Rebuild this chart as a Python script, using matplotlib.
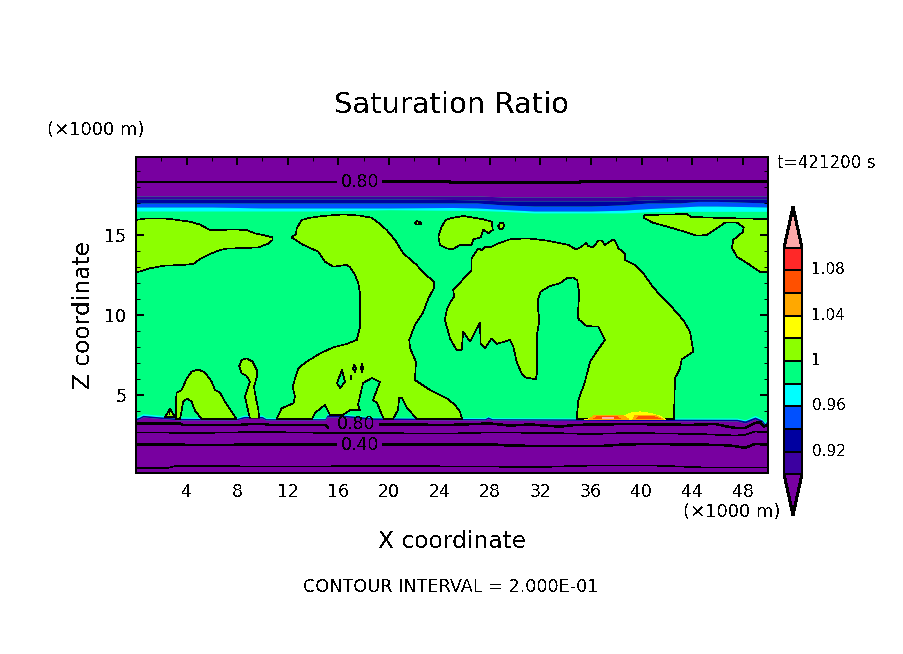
import matplotlib
matplotlib.use("Agg")
import matplotlib.pyplot as plt
from matplotlib.cm import ScalarMappable
from matplotlib.colors import BoundaryNorm, ListedColormap
from matplotlib.transforms import ScaledTranslation

plt.rcParams["font.family"] = ["DejaVu Sans"]
plt.rcParams["lines.antialiased"] = False
plt.rcParams["patch.antialiased"] = False
plt.rcParams["text.antialiased"] = False

# colour levels of the shading
levels = [0.90, 0.92, 0.94, 0.96, 0.98, 1.00, 1.02, 1.04, 1.06, 1.08, 1.10]
level_colors = ["#3C00A0", "#0000A0", "#0050FF", "#00FFFF", "#00FF80",
                "#8CFF00", "#FFFF00", "#FFA800", "#FF5000", "#FF2828"]
under_color = "#7800A0"
over_color = "#FFA8A8"
cbar_ticks = [0.92, 0.96, 1.00, 1.04, 1.08]
cbar_labels = ["0.92", "0.96", "1", "1.04", "1.08"]

# areas above saturation ratio 1 (x km, z km)
blob_a = [(0, 15.94), (0.84, 16.04), (2.16, 16.04), (3.09, 15.96), (4.27, 15.83), (5.06, 15.65), (5.85, 15.31),
          (6.51, 15.29), (7.44, 15.35), (8.23, 15.33), (8.75, 15.31), (9.41, 15.1), (10.07, 15.0),
          (10.81, 14.85), (10.81, 14.69), (10.47, 14.46), (9.68, 14.23), (8.75, 14.19), (7.17, 14.15),
          (6.64, 14.06), (5.85, 13.81), (5.06, 13.5), (4.54, 13.19), (3.74, 13.13), (2.16, 13.08),
          (1.11, 12.92), (0, 12.65)]
blob_b = [(12.31, 14.85), (12.66, 15.06), (12.71, 15.42), (13.11, 15.94), (13.76, 16.08), (14.82, 16.19),
          (16.4, 16.29), (17.72, 16.21), (18.64, 16.08), (19.3, 15.69), (19.83, 15.31), (20.49, 14.69),
          (21.15, 13.85), (22.2, 13.13), (22.73, 12.65), (23.57, 12.08), (23.57, 11.67), (23.13, 11.04),
          (22.68, 10.1), (22.07, 9.38), (21.62, 8.44), (21.68, 7.92), (22.15, 7.08), (22.07, 5.94),
          (23.26, 5.31), (24.58, 4.79), (25.24, 4.38), (25.63, 3.96), (25.79, 3.5), (22.23, 3.5),
          (21.44, 4.19), (21.04, 4.81), (20.81, 4.81), (20.73, 4.06), (20.33, 3.5), (19.62, 3.5),
          (19.46, 3.75), (19.07, 4.5), (18.75, 4.69), (19.3, 5.81), (18.67, 6.06), (17.96, 5.75),
          (17.56, 4.38), (17.72, 4.06), (16.93, 4.06), (16.38, 3.75), (15.34, 3.75), (14.95, 4.38),
          (14.16, 3.88), (13.92, 3.5), (11.13, 3.5), (11.52, 4.17), (12.45, 4.48), (12.58, 4.9),
          (12.39, 5.52), (12.84, 6.67), (13.5, 7.08), (14.56, 7.6), (15.61, 7.98), (16.67, 8.19),
          (17.46, 8.44), (17.7, 9.19), (17.72, 9.69), (17.72, 11.35), (17.59, 11.98), (17.33, 12.5),
          (16.93, 12.98), (16.67, 13.13), (15.61, 13.02), (14.95, 13.33), (14.42, 13.96), (13.24, 14.38)]
blob_c = [(3.14, 3.5), (3.14, 4.58), (3.22, 5.15), (3.61, 5.31), (4.01, 6.04), (4.4, 6.46), (4.93, 6.6),
          (5.46, 6.4), (5.99, 5.83), (6.25, 5.31), (6.64, 5.15), (7.04, 4.58), (7.96, 3.5), (5.19, 3.5),
          (4.67, 4.02), (4.4, 4.58), (4.06, 4.79), (3.74, 4.58), (3.48, 3.5)]
blob_tiny = [(2.29, 3.63), (2.69, 4.13), (3.09, 3.63)]
blob_d = [(9.02, 3.5), (9.76, 3.5), (9.68, 4.06), (9.49, 4.79), (9.33, 5.52), (9.55, 6.1), (9.55, 6.56),
          (9.23, 7.08), (8.75, 7.29), (8.36, 7.19), (8.17, 6.81), (8.36, 6.35), (8.75, 6.19), (9.02, 5.83),
          (8.62, 4.9), (8.89, 3.96)]
blob_e = [(42.56, 3.5), (42.64, 6.04), (43.04, 6.67), (43.17, 7.23), (44.09, 7.71), (43.83, 8.96), (43.3, 9.69),
          (43.17, 9.79), (42.24, 10.63), (41.45, 11.25), (40.79, 11.87), (40.13, 12.6), (39.48, 13.13),
          (38.68, 13.44), (38.68, 13.85), (38.16, 14.17), (37.97, 14.52), (37.76, 14.73), (37.1, 14.38),
          (36.84, 14.65), (36.57, 14.65), (36.18, 14.23), (35.78, 14.31), (35.6, 14.52), (35.26, 14.27),
          (34.81, 14.1), (34.2, 14.38), (32.49, 14.65), (31.7, 14.73), (30.9, 14.79), (29.59, 14.73),
          (28.8, 14.52), (28.0, 14.23), (27.61, 14.27), (27.35, 14.06), (27.08, 14.17), (26.82, 13.85),
          (26.55, 13.54), (26.55, 12.81), (25.1, 11.56), (25.16, 11.15), (24.84, 10.77), (24.58, 10.31),
          (24.44, 9.69), (24.84, 8.54), (25.37, 7.81), (25.76, 7.81), (25.89, 8.96), (26.42, 8.33),
          (27.21, 9.52), (27.27, 8.23), (27.61, 7.92), (28.14, 8.54), (28.53, 8.19), (29.59, 8.44),
          (29.85, 8.02), (30.11, 7.08), (30.51, 6.35), (30.77, 6.1), (31.64, 5.98), (31.75, 6.56),
          (31.7, 8.65), (31.91, 9.69), (31.78, 10.52), (31.83, 11.04), (32.01, 11.46), (32.75, 11.81),
          (33.54, 11.98), (34.07, 12.29), (34.6, 12.35), (34.91, 12.15), (35.07, 11.35), (34.94, 9.9),
          (35.07, 9.69), (35.65, 9.31), (36.57, 9.27), (37.1, 8.44), (36.44, 7.71), (35.92, 7.08),
          (35.52, 5.83), (35.0, 4.69), (34.86, 3.5)]
blob_f = [(23.92, 14.9), (24.18, 15.52), (24.52, 15.94), (24.84, 16.04), (25.89, 16.19), (27.48, 15.98),
          (28.14, 15.83), (28.22, 15.31), (27.87, 15.1), (27.48, 15.35), (27.27, 14.85), (26.69, 14.73),
          (26.55, 14.38), (25.63, 14.38), (25.05, 14.1), (24.58, 14.17), (24.05, 14.38)]
blob_g = [(40.19, 16.2), (40.3, 16.25), (43.59, 16.31), (43.91, 16.13), (46.44, 16.06), (50, 16.0), (50, 12.69),
          (49.37, 12.69), (48.34, 13.25), (47.55, 13.63), (47.15, 14.19), (47.25, 14.69), (48.02, 15.19),
          (48.08, 15.48), (47.55, 15.77), (46.6, 15.77), (45.17, 15.0), (44.38, 14.96), (42.8, 15.35),
          (40.9, 15.77), (40.19, 16.06)]
dot_a = [(28.66, 15.56), (28.8, 15.75), (29.04, 15.75), (29.12, 15.56), (29.0, 15.38), (28.77, 15.38)]
dot_b = [(22.05, 15.75), (22.2, 15.87), (22.5, 15.81), (22.6, 15.69), (22.2, 15.65)]

# small holes below 1 inside blob b
hole_a = [(16.3, 6.56), (15.9, 5.75), (16.14, 5.44), (16.53, 5.81)]
hole_b = [(17.25, 6.88), (17.4, 6.69), (17.33, 6.44), (17.17, 6.63)]
hole_c = [(17.88, 6.94), (17.96, 6.69), (17.88, 6.44), (17.8, 6.69)]
hole_d = [(16.9, 6.25), (17.02, 6.25), (17.02, 6.0), (16.9, 6.0)]

# warm patch near cloud base
warm_yellow = [(35.5, 3.44), (36.7, 3.66), (38.7, 3.72), (39.2, 3.88), (39.9, 3.94), (40.7, 3.85),
               (41.5, 3.66), (41.9, 3.44)]
warm_orange_a = [(35.8, 3.47), (36.2, 3.69), (38.6, 3.69), (39.0, 3.47)]
warm_orange_b = [(39.3, 3.47), (39.5, 3.75), (41.0, 3.75), (41.7, 3.47)]
warm_red_a = [(36.2, 3.5), (36.5, 3.64), (38.1, 3.64), (38.3, 3.5)]
warm_red_b = [(39.6, 3.5), (39.8, 3.64), (41.0, 3.64), (41.5, 3.5)]
warm_pink = [(36.9, 3.5), (36.9, 3.6), (37.8, 3.6), (37.8, 3.5)]

# shading boundaries under the tropopause
top_x = [0, 6.01, 9.97, 14.0, 20.02, 25.0, 26.98, 29.03, 31.49, 32.99, 36.0, 38.53, 40.51, 43.04, 44.46, 45.96, 50]
top_98 = [16.5, 16.5, 16.5, 16.5, 16.58, 16.54, 16.54, 16.48, 16.38, 16.38, 16.38, 16.38, 16.45, 16.48, 16.48, 16.48, 16.48]
top_96 = [16.75, 16.75, 16.69, 16.69, 16.69, 16.72, 16.69, 16.6, 16.5, 16.5, 16.5, 16.55, 16.65, 16.75, 16.81, 16.81, 16.75]
top_94 = [17.0, 17.0, 17.0, 17.0, 17.0, 17.0, 17.0, 16.88, 16.81, 16.81, 16.81, 16.88, 17.0, 17.0, 17.1, 17.1, 17.0]
top_92 = [17.25, 17.25, 17.25, 17.25, 17.25, 17.22, 17.19, 17.13, 17.13, 17.13, 17.13, 17.13, 17.19, 17.25, 17.25, 17.25, 17.25]
top_90 = [17.44, 17.44, 17.44, 17.44, 17.44, 17.44, 17.44, 17.38, 17.38, 17.38, 17.38, 17.38, 17.44, 17.44, 17.44, 17.44, 17.44]

# shading boundaries at cloud base
base_x = [0, 0.24, 0.55, 1.5, 3.48, 7.91, 8.54, 8.86, 9.97, 10.28, 11.08, 14.95, 15.11, 16.53, 18.75,
          27.61, 27.85, 28.16, 36.71, 47.55, 48.18, 48.97, 49.53, 49.76, 50]
base_90 = [3.44, 3.5, 3.63, 3.56, 3.44, 3.44, 3.56, 3.56, 3.56, 3.44, 3.44, 3.44, 3.63, 3.63, 3.47,
           3.44, 3.53, 3.44, 3.41, 3.38, 3.25, 3.5, 3.31, 3.06, 3.38]
base_94 = [3.54, 3.6, 3.73, 3.66, 3.54, 3.52, 3.66, 3.66, 3.66, 3.52, 3.52, 3.52, 3.75, 3.73, 3.57,
           3.52, 3.63, 3.52, 3.5, 3.48, 3.38, 3.62, 3.43, 3.2, 3.5]
base_98 = [3.62, 3.7, 3.83, 3.76, 3.62, 3.58, 3.75, 3.75, 3.75, 3.58, 3.58, 3.58, 3.85, 3.8, 3.62,
           3.58, 3.7, 3.58, 3.56, 3.56, 3.45, 3.72, 3.5, 3.3, 3.6]

# contour lines (labels sit in the gaps)
top80_left_x = [0, 8.0, 15.82]
top80_left_z = [18.33, 18.33, 18.33]
top80_right_x = [19.54, 24.84, 24.85, 35.1, 35.11, 50]
top80_right_z = [18.33, 18.33, 18.27, 18.27, 18.33, 18.33]
low80_left_x = [0, 3.48, 3.72, 8.22, 9.02, 10.05, 10.6, 14.95, 15.18]
low80_left_z = [3.22, 3.22, 3.13, 3.13, 3.19, 3.19, 3.13, 3.13, 3.0]
low80_right_x = [19.3, 24.84, 28.0, 29.59, 31.17, 33.54, 34.73, 39.08, 43.83, 45.81, 46.6, 47.39, 48.18, 48.97, 49.37, 49.68, 50]
low80_right_z = [3.16, 3.13, 3.22, 3.09, 3.16, 3.02, 3.13, 3.19, 3.13, 3.19, 3.06, 2.94, 2.94, 3.25, 3.31, 3.03, 3.13]
low60_x = [0, 5.06, 9.81, 15.34, 24.84, 28.0, 32.75, 35.92, 39.08, 44.62, 47.39, 48.18, 48.97, 50]
low60_z = [2.66, 2.63, 2.69, 2.63, 2.59, 2.66, 2.63, 2.56, 2.63, 2.56, 2.47, 2.5, 2.72, 2.66]
low40_left_x = [0, 5.06, 10.6, 15.82]
low40_left_z = [1.92, 1.88, 1.9, 1.91]
low40_right_x = [19.54, 24.84, 28.0, 29.59, 32.36, 36.71, 38.69, 40.66, 46.2, 47.39, 48.18, 48.97, 50]
low40_right_z = [1.92, 1.91, 1.92, 1.84, 1.81, 1.81, 1.91, 1.94, 1.88, 1.81, 1.69, 1.94, 1.9]
low20_x = [0, 2.5, 3.1, 12.0, 20.0, 27.0, 32.0, 36.0, 41.0, 45.0, 50]
low20_z = [0.44, 0.44, 0.56, 0.53, 0.56, 0.53, 0.5, 0.59, 0.59, 0.47, 0.47]

x_major = list(range(4, 50, 4))
x_minor = list(range(2, 50, 4))
z_major = [5, 10, 15]
z_minor = [z for z in range(1, 20) if z % 5 != 0]

W, H = 904, 654
fig = plt.figure(figsize=(W / 100, H / 100), dpi=100, facecolor="white")
ax = fig.add_axes([136 / W, 1 - 473 / H, 632 / W, 316 / H])
ax.set_facecolor(level_colors[4])
ax.set_xlim(0, 50)
ax.set_ylim(0.125, 19.875)


def shape(points, color=level_colors[5], edge="black", order=1.3):
    xs, zs = zip(*points)
    ax.fill(xs, zs, facecolor=color, edgecolor=edge, linewidth=0.45, zorder=order)


for blob in [blob_a, blob_b, blob_c, blob_tiny, blob_d, blob_e, blob_f, blob_g, dot_a, dot_b]:
    shape(blob)
for hole in [hole_a, hole_b, hole_c, hole_d]:
    shape(hole, level_colors[4], order=1.4)

shape(warm_yellow, level_colors[6], "none", 1.5)
shape(warm_orange_a, level_colors[7], "none", 1.6)
shape(warm_orange_b, level_colors[7], "none", 1.6)
shape(warm_red_a, level_colors[8], "none", 1.7)
shape(warm_red_b, level_colors[8], "none", 1.7)
shape(warm_pink, over_color, "none", 1.8)

# upper stack
ax.fill_between(top_x, top_98, top_96, color=level_colors[3], lw=0, zorder=1.2)
ax.fill_between(top_x, top_96, top_94, color=level_colors[2], lw=0, zorder=1.2)
ax.fill_between(top_x, top_94, top_92, color=level_colors[1], lw=0, zorder=1.2)
ax.fill_between(top_x, top_92, top_90, color=level_colors[0], lw=0, zorder=1.2)
ax.fill_between(top_x, top_90, 19.875, color=under_color, lw=0, zorder=1.2)

# lower stack
ax.fill_between(base_x, base_94, base_98, color=level_colors[3], lw=0, zorder=1.2)
ax.fill_between(base_x, base_90, base_94, color=level_colors[1], lw=0, zorder=1.2)
ax.fill_between(base_x, 0.125, base_90, color=under_color, lw=0, zorder=1.9)

thick = 1.1
thin = 0.45
ax.plot(top80_left_x, top80_left_z, "k", lw=thick)
ax.plot(top80_right_x, top80_right_z, "k", lw=thick)
ax.plot(low80_left_x, low80_left_z, "k", lw=thick)
ax.plot(low80_right_x, low80_right_z, "k", lw=thick)
ax.plot(low60_x, low60_z, "k", lw=thin)
ax.plot(low40_left_x, low40_left_z, "k", lw=thick)
ax.plot(low40_right_x, low40_right_z, "k", lw=thick)
ax.plot(low20_x, low20_z, "k", lw=thin)

ax.text(17.7, 18.33, "0.80", fontsize=12.5, ha="center", va="center", color="black")
ax.text(17.4, 3.2, "0.80", fontsize=12.5, ha="center", va="center", color="black")
ax.text(17.7, 1.9, "0.40", fontsize=12.5, ha="center", va="center", color="black")
ax.text(2.69, 3.82, "1", fontsize=4.5, ha="center", va="center", color="black")

ax.set_xticks(x_major)
ax.set_xticks(x_minor, minor=True)
ax.set_yticks(z_major)
ax.set_yticks(z_minor, minor=True)
ax.tick_params(which="major", direction="in", top=True, right=True, length=5.8, width=1.44,
               labelsize=12.5, pad=7)
ax.tick_params(which="minor", direction="in", top=True, right=True, length=2.9, width=0.72)
for spine in ax.spines.values():
    spine.set_linewidth(1.44)

# colour bar
cmap = ListedColormap(level_colors)
cmap.set_under(under_color)
cmap.set_over(over_color)
norm = BoundaryNorm(levels, cmap.N)
cax = fig.add_axes([784 / W, 1 - 515 / H, 18 / W, 308 / H])
cbar = fig.colorbar(ScalarMappable(norm=norm, cmap=cmap), cax=cax, extend="both", extendfrac=0.18,
                    drawedges=True, spacing="uniform", ticks=cbar_ticks)
cbar.ax.set_yticklabels(cbar_labels)
cbar.minorticks_off()
cbar.ax.tick_params(length=0, labelsize=11, pad=7)
cbar.outline.set_linewidth(1.44)
cbar.dividers.set_linewidth(1.44)
for label in cbar.ax.get_yticklabels():
    label.set_transform(label.get_transform() + ScaledTranslation(0, 2 / 100, fig.dpi_scale_trans))

fig.text(452 / W, 1 - 105 / H, "Saturation Ratio", fontsize=20.9, ha="center", va="center")
fig.text(47 / W, 1 - 130 / H, "(×1000 m)", fontsize=13, ha="left", va="center")
fig.text(781 / W, 1 - 512 / H, "(×1000 m)", fontsize=13, ha="right", va="center")
fig.text(777 / W, 1 - 163 / H, "t=421200 s", fontsize=12.1, ha="left", va="center")
fig.text(452 / W, 1 - 541 / H, "X coordinate", fontsize=16.8, ha="center", va="center")
fig.text(83 / W, 1 - 315 / H, "Z coordinate", fontsize=16.8, ha="center", va="center", rotation=90)
fig.text(451 / W, 1 - 587 / H, "CONTOUR INTERVAL = 2.000E-01", fontsize=12.7, ha="center", va="center")

fig.savefig("out.png", dpi=100)
